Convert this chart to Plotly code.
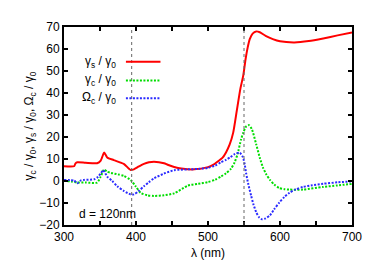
import plotly.graph_objects as go

# --- data ---
lam_s = [300, 314, 316, 318.5, 330, 346, 351, 353, 355.6, 358, 360, 369, 383, 392.6, 397, 404, 411, 418, 425, 439, 444, 453, 463, 481, 500, 507, 514, 520, 525, 530, 535, 540, 545, 549, 552, 555, 558, 562, 567, 572, 580, 590, 600, 620, 640, 660, 680, 700]
gamma_s = [6.7, 6.7, 8.0, 8.5, 8.3, 8.1, 9.3, 10.8, 12.9, 11.8, 10.7, 9.5, 7.8, 5.0, 5.3, 6.6, 7.8, 8.5, 8.8, 8.1, 7.4, 6.4, 5.7, 5.3, 6.3, 7.3, 9.0, 10.5, 13.0, 16.5, 22.0, 32.0, 42.0, 48.0, 55.0, 60.5, 64.5, 67.0, 68.0, 67.6, 66.0, 64.5, 63.5, 63.0, 63.6, 64.8, 66.2, 67.5]

lam_c = [300, 310, 318.5, 330, 346, 351, 355.6, 360, 365, 375, 383, 392.6, 399.5, 406.5, 416, 425, 439, 453, 472, 486, 500, 510, 518, 525, 532, 537, 541, 546, 549, 553, 557, 561, 567, 572, 576, 581, 586, 592, 599, 606, 613, 632, 660, 680, 700]
gamma_c = [0.0, -0.2, -0.7, -0.7, -0.7, 2.0, 5.2, 4.2, 3.7, 3.0, 2.3, 0.5, -2.4, -5.4, -6.5, -6.8, -6.5, -5.6, -2.1, -1.3, -0.5, 0.6, 2.0, 3.5, 5.6, 8.5, 12.2, 19.0, 22.0, 24.8, 25.4, 23.5, 16.6, 10.5, 6.4, 3.0, 0.5, -1.6, -3.2, -3.7, -3.9, -3.9, -2.7, -2.0, -1.3]

lam_o = [300, 314, 318.5, 323, 328, 342, 347, 351, 354.6, 360, 367, 374, 383, 392.6, 397, 404, 411, 418, 425, 439, 453, 472, 486, 500, 510, 518, 525, 531, 537, 544, 548.6, 551, 553, 556, 560, 563, 567, 571, 575, 580, 586, 592, 599, 606, 613, 622, 632, 645, 660, 680, 699]
omega_c = [0.5, 0.2, -1.0, 0.2, 0.5, 0.8, 1.8, 3.4, 4.9, 2.0, 0.0, -2.4, -4.5, -6.1, -6.1, -4.5, -2.4, -0.5, 1.2, 3.4, 4.9, 5.3, 5.5, 6.0, 7.0, 8.5, 9.6, 10.8, 12.2, 12.9, 10.7, 7.5, 3.4, -1.5, -6.8, -10.5, -14.2, -16.5, -17.4, -17.0, -15.6, -12.8, -9.8, -7.3, -5.4, -3.8, -2.7, -1.9, -1.25, -0.6, -0.2]

vlines = [394, 550]
x_ticks = [300, 350, 400, 450, 500, 550, 600, 650, 700]
x_ticktext = ["300", "", "400", "", "500", "", "600", "", "700"]
y_ticks = [-20, -10, 0, 10, 20, 30, 40, 50, 60, 70]

legend_names = ["γ<sub>s</sub> / γ<sub>0</sub>", "γ<sub>c</sub> / γ<sub>0</sub>", "Ω<sub>c</sub> / γ<sub>0</sub>"]
colors = ["#ff0000", "#00dd00", "#2a2aff"]
dashes = ["solid", "2px,1.5px", "2px,1.5px"]

FONT = "Liberation Sans, Arial"
FS = 12

fig = go.Figure()
for v in vlines:
    fig.add_vline(x=v, line=dict(color="#666666", width=1, dash="3px,3px"), layer="above")

for lx, ly, c, d, n in [(lam_s, gamma_s, colors[0], dashes[0], legend_names[0]),
                        (lam_c, gamma_c, colors[1], dashes[1], legend_names[1]),
                        (lam_o, omega_c, colors[2], dashes[2], legend_names[2])]:
    fig.add_trace(go.Scatter(x=lx, y=ly, mode="lines", name=n,
                             line=dict(color=c, width=2, dash=d, shape="spline", smoothing=0.6)))

# legend drawn gnuplot-style: text on the left, sample on the right
leg_y = [0.825, 0.73, 0.64]
for name, c, d, yy in zip(legend_names, colors, dashes, leg_y):
    fig.add_annotation(x=0.188, y=yy, xref="paper", yref="paper", text=name,
                       showarrow=False, xanchor="right", yanchor="middle",
                       font=dict(family=FONT, size=FS, color="black"))
    fig.add_shape(type="line", xref="paper", yref="paper", x0=0.215, x1=0.335, y0=yy, y1=yy,
                  line=dict(color=c, width=2, dash=d))

fig.add_annotation(x=0.045, y=0.055, xref="paper", yref="paper", text="d = 120nm",
                   showarrow=False, xanchor="left", yanchor="middle",
                   font=dict(family=FONT, size=FS, color="black"))

axis_common = dict(showline=True, linecolor="black", linewidth=2, mirror="allticks",
                   ticks="inside", ticklen=4, tickwidth=2, tickcolor="black",
                   showgrid=False, zeroline=False,
                   tickfont=dict(family=FONT, size=FS, color="black"))

fig.update_layout(
    width=374, height=262,
    margin=dict(l=56, r=30, t=15, b=42),
    paper_bgcolor="white", plot_bgcolor="white",
    showlegend=False,
    font=dict(family=FONT, size=FS, color="black"),
    xaxis=dict(range=[300, 700], tickvals=x_ticks, ticktext=x_ticktext,
               title=dict(text="λ (nm)", standoff=5, font=dict(size=FS)), **axis_common),
    yaxis=dict(range=[-20, 70], tickvals=y_ticks,
               title=dict(text="γ<sub>c</sub> / γ<sub>0</sub>, γ<sub>s</sub> / γ<sub>0</sub>, Ω<sub>c</sub> / γ<sub>0</sub>",
                          standoff=3, font=dict(size=FS)), **axis_common),
)

fig.write_html("out.html")
